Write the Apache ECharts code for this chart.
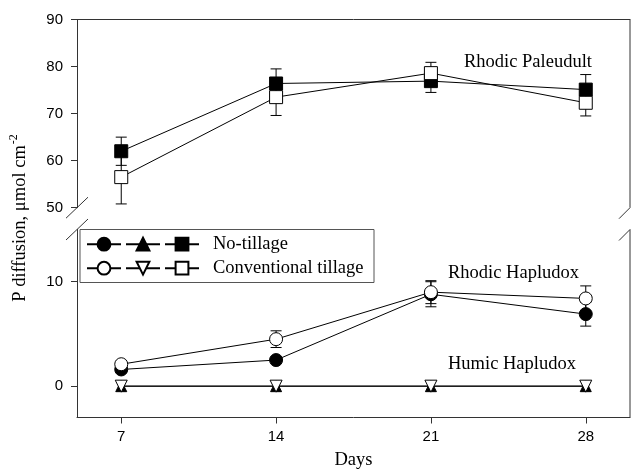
<!DOCTYPE html>
<html><head><meta charset="utf-8">
<script src="https://cdn.jsdelivr.net/npm/echarts@6/dist/echarts.min.js"></script>
<style>html,body{margin:0;padding:0;background:#fff}#c{width:631px;height:473px}</style>
</head><body><div id="c"></div>
<script>
// ---- data ----
const days = [7, 14, 21, 28];
const xTicks = [7, 14, 21, 28];
const bottomTicks = [0, 10];
const paleudultNT = [62.0, 76.4, 76.9, 75.1];
const paleudultNTerr = [3.0, 3.1, 2.4, 3.2];
const paleudultCT = [56.5, 73.5, 78.6, 72.3];
const paleudultCTerr = [5.7, 3.9, 2.3, 2.8];
const hapludoxNT = [1.6, 2.5, 8.8, 6.9];
const hapludoxNTerr = [0.3, 0.3, 1.2, 1.15];
const hapludoxCT = [2.1, 4.5, 9.0, 8.4];
const hapludoxCTerr = [0.3, 0.8, 1.1, 1.2];
const humicNT = [0, 0, 0, 0];
const humicCT = [0, 0, 0, 0];

// ---- layout ----
const L = 77, R = 630, T1 = 19.5, B1 = 207.7, T2 = 229.5, B2 = 417.5;
const AX = '#333';
const SERIF = 'Liberation Serif', SANS = 'Liberation Sans';
const FS = 18.5;

function lineS(name, vals, idx, symbol, filled, rotate, size) {
  return {
    type: 'line', name: name, xAxisIndex: idx, yAxisIndex: idx,
    data: days.map((d, i) => [d, vals[i]]),
    symbol: symbol, symbolSize: size || 13, symbolRotate: rotate || 0,
    showAllSymbol: true,
    lineStyle: { color: '#000', width: 1 },
    itemStyle: { color: filled ? '#000' : '#fff', borderColor: '#000', borderWidth: 1 },
    emphasis: { disabled: true }, z: 3, animation: false
  };
}
function errS(vals, errs, idx) {
  return {
    type: 'custom', xAxisIndex: idx, yAxisIndex: idx, silent: true, z: 2,
    data: days.map((d, i) => [d, vals[i], errs[i]]),
    encode: { x: 0, y: 1 },
    renderItem: function (params, api) {
      const x = api.value(0), y = api.value(1), e = api.value(2);
      const t = api.coord([x, y + e]), b = api.coord([x, y - e]);
      const w = 5.5, st = { stroke: '#000', lineWidth: 1 };
      return { type: 'group', children: [
        { type: 'line', shape: { x1: t[0], y1: t[1], x2: b[0], y2: b[1] }, style: st },
        { type: 'line', shape: { x1: t[0] - w, y1: t[1], x2: t[0] + w, y2: t[1] }, style: st },
        { type: 'line', shape: { x1: b[0] - w, y1: b[1], x2: b[0] + w, y2: b[1] }, style: st }
      ]};
    }
  };
}

const chart = echarts.init(document.getElementById('c'));
const legendText = { fontFamily: SERIF, fontSize: FS, color: '#000',
  rich: { a: { fontFamily: SERIF, fontSize: FS, color: '#000', padding: [0, 0, 0, 9] } } };
const bl = { stroke: AX, lineWidth: 1 };
chart.setOption({
  animation: false,
  grid: [
    { left: L, top: T1, width: R - L, height: B1 - T1 },
    { left: L, top: T2, width: R - L, height: B2 - T2 }
  ],
  xAxis: [
    { gridIndex: 0, type: 'value', min: 5, max: 30, position: 'top',
      axisLine: { show: true, onZero: false, lineStyle: { color: AX } },
      axisTick: { show: false }, axisLabel: { show: false }, splitLine: { show: false } },
    { gridIndex: 1, type: 'value', min: 5, max: 30, position: 'bottom',
      name: 'Days', nameLocation: 'middle', nameGap: 33,
      nameTextStyle: { fontFamily: SERIF, fontSize: FS, color: '#000' },
      axisLine: { show: true, onZero: false, lineStyle: { color: AX } },
      axisTick: { show: true, length: 6, customValues: xTicks, lineStyle: { color: AX } },
      axisLabel: { customValues: xTicks, fontFamily: SANS, fontSize: 15, color: '#000', margin: 12 },
      splitLine: { show: false } }
  ],
  yAxis: [
    { gridIndex: 0, type: 'value', min: 50, max: 90, interval: 10,
      axisLine: { show: true, onZero: false, lineStyle: { color: AX } },
      axisTick: { show: true, length: 6, lineStyle: { color: AX } },
      axisLabel: { fontFamily: SANS, fontSize: 15, color: '#000', margin: 14 },
      splitLine: { show: false } },
    { gridIndex: 1, type: 'value', min: -3, max: 15,
      axisLine: { show: true, onZero: false, lineStyle: { color: AX } },
      axisTick: { show: true, length: 6, customValues: bottomTicks, lineStyle: { color: AX } },
      axisLabel: { customValues: bottomTicks, fontFamily: SANS, fontSize: 15, color: '#000', margin: 14 },
      splitLine: { show: false } }
  ],
  legend: [
    { data: ['NT Rhodic Hapludox', 'NT Humic Hapludox', 'NT Rhodic Paleudult'],
      left: 86, top: 234.7, padding: 0, itemWidth: 34, itemHeight: 16, itemGap: 3,
      selectedMode: false, textStyle: legendText,
      formatter: n => n === 'NT Rhodic Paleudult' ? '{a|No-tillage}' : '' },
    { data: ['CT Rhodic Hapludox', 'CT Humic Hapludox', 'CT Rhodic Paleudult'],
      left: 86, top: 258.7, padding: 0, itemWidth: 34, itemHeight: 16, itemGap: 3,
      selectedMode: false, textStyle: legendText,
      formatter: n => n === 'CT Rhodic Paleudult' ? '{a|Conventional tillage}' : '' }
  ],
  graphic: [
    { type: 'rect', shape: { x: 80, y: T2, width: 294, height: 53 }, style: { fill: 'none', stroke: '#555', lineWidth: 1 }, z: 1 },
    { type: 'line', shape: { x1: R, y1: T1, x2: R, y2: B1 }, style: bl },
    { type: 'line', shape: { x1: R, y1: T2, x2: R, y2: B2 }, style: bl },
    { type: 'line', shape: { x1: L - 11, y1: B1 + 10.5, x2: L + 11, y2: B1 - 10.5 }, style: bl },
    { type: 'line', shape: { x1: L - 11, y1: T2 + 10.5, x2: L + 11, y2: T2 - 10.5 }, style: bl },
    { type: 'line', shape: { x1: R - 11, y1: B1 + 11, x2: R, y2: B1 }, style: bl },
    { type: 'line', shape: { x1: R - 11, y1: T2 + 11, x2: R, y2: T2 }, style: bl },
    { type: 'text', x: 464, y: 62, style: { text: 'Rhodic Paleudult', fontFamily: SERIF, fontSize: FS, fill: '#000', textVerticalAlign: 'middle' } },
    { type: 'text', x: 448, y: 273, style: { text: 'Rhodic Hapludox', fontFamily: SERIF, fontSize: FS, fill: '#000', textVerticalAlign: 'middle' } },
    { type: 'text', x: 448, y: 364, style: { text: 'Humic Hapludox', fontFamily: SERIF, fontSize: FS, fill: '#000', textVerticalAlign: 'middle' } },
    { type: 'text', x: 20, y: 218, rotation: Math.PI / 2,
      style: { text: 'P diffusion, μmol cm{sup|-2}', fontFamily: SERIF, fontSize: FS, fill: '#000',
        textAlign: 'center', textVerticalAlign: 'middle',
        rich: { sup: { fontFamily: SERIF, fontSize: 12, fill: '#000', padding: [0, 0, 13, 1] } } } }
  ],
  series: [
    errS(paleudultNT, paleudultNTerr, 0),
    errS(paleudultCT, paleudultCTerr, 0),
    errS(hapludoxNT, hapludoxNTerr, 1),
    errS(hapludoxCT, hapludoxCTerr, 1),
    lineS('NT Rhodic Paleudult', paleudultNT, 0, 'rect', true, 0, 13),
    lineS('CT Rhodic Paleudult', paleudultCT, 0, 'rect', false, 0, 13),
    lineS('NT Rhodic Hapludox', hapludoxNT, 1, 'circle', true, 0, 13),
    lineS('CT Rhodic Hapludox', hapludoxCT, 1, 'circle', false, 0, 13),
    lineS('NT Humic Hapludox', humicNT, 1, 'triangle', true, 0, 11),
    lineS('CT Humic Hapludox', humicCT, 1, 'triangle', false, 180, 12)
  ]
});
</script></body></html>
